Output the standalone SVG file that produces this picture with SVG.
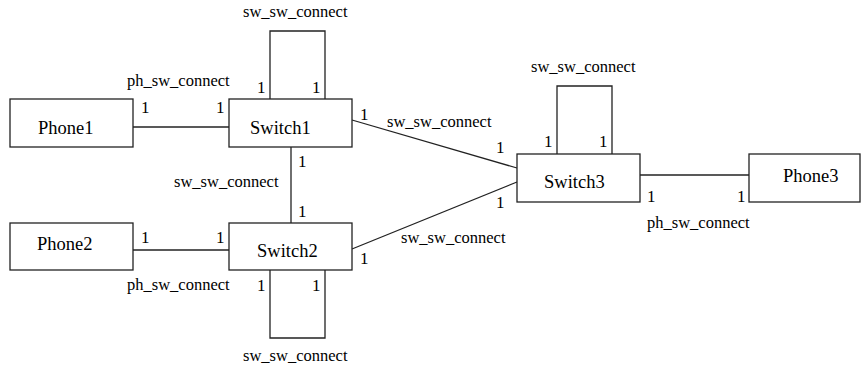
<svg xmlns="http://www.w3.org/2000/svg" width="861" height="365" viewBox="0 0 861 365" font-family="Liberation Serif, Times New Roman, Times, serif">
<style>
.node rect{fill:#fff;stroke:#222;stroke-width:1.3}
.node text{font-size:18.5px;fill:#000}
.conn line,.conn path{fill:none;stroke:#222;stroke-width:1.3}
.lbl{font-size:16.5px;fill:#000}
.m{font-size:17px;fill:#000}
</style>
<rect width="861" height="365" fill="#fff"/>
<g id="connectors" class="conn">
<line x1="133" y1="127" x2="229" y2="127"/>
<path d="M270,99 V31 H325 V99"/>
<line x1="291" y1="147" x2="291" y2="223"/>
<line x1="133" y1="250" x2="229" y2="250"/>
<path d="M270,270 V338 H325 V270"/>
<line x1="352" y1="120" x2="517" y2="168"/>
<line x1="352" y1="249" x2="517" y2="182"/>
<path d="M557,154 V86 H612 V154"/>
<line x1="640" y1="175" x2="749" y2="175"/>
</g>
<g id="labels">
<text class="lbl" x="243" y="17">sw_sw_connect</text>
<text class="lbl" x="127" y="86">ph_sw_connect</text>
<text class="m" x="141" y="113">1</text>
<text class="m" x="216" y="113">1</text>
<text class="m" x="257" y="93">1</text>
<text class="m" x="312" y="93">1</text>
<text class="m" x="298" y="167">1</text>
<text class="lbl" x="174" y="187">sw_sw_connect</text>
<text class="m" x="298" y="217">1</text>
<text class="m" x="141" y="243">1</text>
<text class="m" x="216" y="243">1</text>
<text class="lbl" x="127" y="290">ph_sw_connect</text>
<text class="m" x="257" y="291">1</text>
<text class="m" x="312" y="291">1</text>
<text class="lbl" x="243" y="361">sw_sw_connect</text>
<text class="lbl" x="531" y="72">sw_sw_connect</text>
<text class="m" x="544" y="147">1</text>
<text class="m" x="599" y="147">1</text>
<text class="m" x="360" y="120">1</text>
<text class="lbl" x="387" y="127">sw_sw_connect</text>
<text class="m" x="496" y="153">1</text>
<text class="m" x="496" y="208">1</text>
<text class="lbl" x="401" y="243">sw_sw_connect</text>
<text class="m" x="360" y="264">1</text>
<text class="m" x="647" y="202">1</text>
<text class="m" x="737" y="202">1</text>
<text class="lbl" x="647" y="228">ph_sw_connect</text>
</g>
<g id="Phone1" class="node"><rect x="10" y="99" width="123" height="48"/><text x="38" y="134">Phone1</text></g>
<g id="Switch1" class="node"><rect x="229" y="99" width="123" height="48"/><text x="250" y="134">Switch1</text></g>
<g id="Phone2" class="node"><rect x="10" y="223" width="123" height="47"/><text x="37" y="250">Phone2</text></g>
<g id="Switch2" class="node"><rect x="229" y="223" width="123" height="47"/><text x="257" y="257">Switch2</text></g>
<g id="Switch3" class="node"><rect x="517" y="154" width="123" height="48"/><text x="544" y="188">Switch3</text></g>
<g id="Phone3" class="node"><rect x="749" y="154" width="111" height="48"/><text x="783" y="182">Phone3</text></g>
</svg>
